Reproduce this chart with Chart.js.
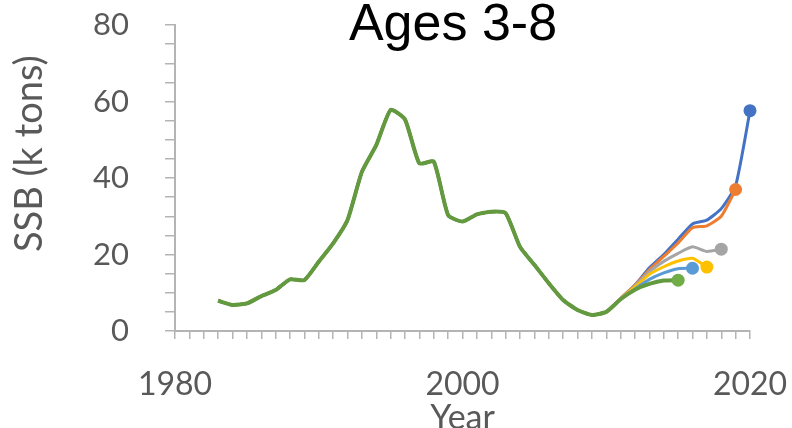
<!DOCTYPE html>
<html>
<head>
    <title>Ages 3-8</title>
    <script src="https://cdn.jsdelivr.net/npm/chart.js@4.4.0/dist/chart.umd.min.js"></script>
    <style>
        body {
            margin: 0;
            background-color: white;
        }
        .wrap {
            position: relative;
            width: 792px;
            height: 428px;
            overflow: hidden;
        }
        .title {
            position: absolute;
            left: 453px;
            top: -4px;
            transform: translateX(-50%);
            font-family: "Liberation Sans", Arial, sans-serif;
            font-size: 52px;
            line-height: 52px;
            color: black;
            white-space: nowrap;
        }
    </style>
</head>
<body>
    <div class="wrap">
        <canvas id="ssbChart" width="792" height="428"></canvas>
        <div class="title">Ages 3-8</div>
    </div>

    <script>
        // years on the x axis
        const years = [1983, 1984, 1985, 1986, 1987, 1988, 1989, 1990, 1991, 1992,
                       1993, 1994, 1995, 1996, 1997, 1998, 1999, 2000, 2001, 2002,
                       2003, 2004, 2005, 2006, 2007, 2008, 2009, 2010, 2011, 2012,
                       2013, 2014, 2015, 2016, 2017, 2018, 2019, 2020];

        // shared history 1983-2010 (k tons)
        const histSSB = [7.9, 6.8, 7.2, 9.1, 10.7, 13.5, 13.3, 18.1, 22.9, 29.0,
                         41.6, 48.6, 57.8, 55.3, 43.8, 44.3, 30.3, 28.6, 30.5, 31.2,
                         30.8, 22.0, 17.3, 12.5, 8.1, 5.5, 4.2, 5.0];

        // retrospective peels, values from 2011 to the terminal year
        const tail2015 = [8.3, 10.8, 12.3, 13.2, 13.3];
        const tail2016 = [8.3, 11.0, 13.5, 15.2, 16.3, 16.4];
        const tail2017 = [8.4, 11.5, 14.8, 16.8, 18.3, 19.0, 16.7];
        const tail2018 = [8.4, 11.8, 15.5, 18.2, 20.3, 22.0, 20.8, 21.4];
        const tail2019 = [8.5, 12.0, 16.0, 19.5, 23.0, 27.0, 27.5, 30.0, 37.0];
        const tail2020 = [8.5, 12.0, 16.5, 20.0, 24.0, 28.0, 29.0, 32.0, 38.0, 57.6];

        const peelNames = ['2015', '2016', '2017', '2018', '2019', '2020'];
        const peelTails = [tail2015, tail2016, tail2017, tail2018, tail2019, tail2020];
        const peelColors = ['#639a40', '#5B9BD5', '#FFC000', '#A5A5A5', '#ED7D31', '#4472C4'];
        const dotColors = ['#70AD47', '#5B9BD5', '#FFC000', '#A5A5A5', '#ED7D31', '#4472C4'];

        const axisGrey = '#b4b4b4';
        const labelGrey = '#595959';

        function buildPoints(tail) {
            return histSSB.concat(tail).map((v, i) => ({ x: years[i], y: v }));
        }

        // drop the extra room chart.js keeps for half tick labels
        function noLabelPadding(s) {
            s.paddingTop = 0;
            s.paddingBottom = 0;
            s.paddingLeft = 0;
            s.paddingRight = 0;
        }

        // first dataset is drawn on top, so the green 2015 line covers the rest
        const datasets = peelTails.map((tail, k) => ({
            label: peelNames[k],
            data: buildPoints(tail),
            borderColor: peelColors[k],
            backgroundColor: dotColors[k],
            borderWidth: k === 0 ? 4 : 3,
            tension: 0.18,
            pointRadius: ctx => ctx.dataIndex === ctx.dataset.data.length - 1 ? 6.5 : 0,
            pointBackgroundColor: dotColors[k],
            pointBorderWidth: 0,
            pointHoverRadius: 0,
            clip: 12
        }));

        new Chart(document.getElementById('ssbChart'), {
            type: 'line',
            data: { datasets: datasets },
            options: {
                responsive: false,
                animation: false,
                events: [],
                layout: {
                    padding: { top: 25, right: 42, left: 0, bottom: 0 }
                },
                plugins: {
                    legend: { display: false },
                    tooltip: { enabled: false }
                },
                scales: {
                    x: {
                        type: 'linear',
                        min: 1980,
                        max: 2020,
                        afterFit: s => { s.height = 97; noLabelPadding(s); },
                        border: { display: true, color: axisGrey, width: 2 },
                        grid: {
                            drawOnChartArea: false,
                            drawTicks: true,
                            tickLength: 8,
                            color: axisGrey,
                            lineWidth: 1.5
                        },
                        ticks: {
                            stepSize: 1,
                            autoSkip: false,
                            maxRotation: 0,
                            padding: 26,
                            color: labelGrey,
                            font: { family: 'Lato', size: 32 },
                            callback: v => (v % 20 === 0 ? String(v) : '')
                        },
                        title: {
                            display: true,
                            text: 'Year',
                            color: labelGrey,
                            font: { family: 'Lato', size: 34 },
                            padding: { top: 0, bottom: -10 }
                        }
                    },
                    y: {
                        min: 0,
                        max: 80,
                        afterFit: s => { s.width = 175; noLabelPadding(s); },
                        border: { display: true, color: axisGrey, width: 2 },
                        grid: {
                            drawOnChartArea: false,
                            drawTicks: true,
                            tickLength: 10,
                            color: axisGrey,
                            lineWidth: 1.5
                        },
                        ticks: {
                            stepSize: 5,
                            autoSkip: false,
                            padding: 36,
                            color: labelGrey,
                            font: { family: 'Lato', size: 31 },
                            callback: v => (v % 20 === 0 ? String(v) : '')
                        },
                        title: {
                            display: true,
                            text: '\u00a0\u00a0\u00a0\u00a0\u00a0SSB (k tons)',
                            color: labelGrey,
                            font: { family: 'Lato', size: 38 },
                            padding: { top: 7, bottom: 0 }
                        }
                    }
                }
            }
        });
    </script>
</body>
</html>
